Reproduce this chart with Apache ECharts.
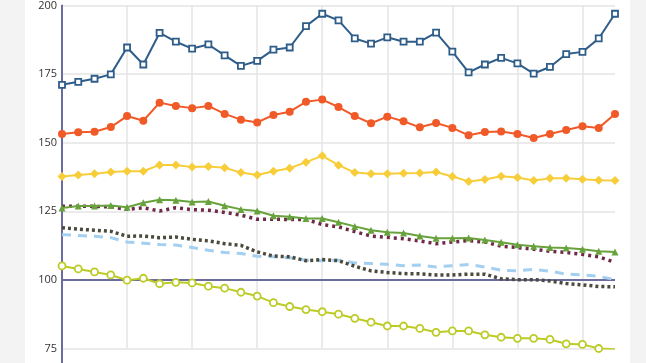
<!DOCTYPE html>
<html><head><meta charset="utf-8">
<script src="https://cdn.jsdelivr.net/npm/echarts@6/dist/echarts.min.js"></script>
<style>html,body{margin:0;padding:0;background:#f3f3f3}#c{width:646px;height:363px}</style>
</head><body><div id="c"></div>
<script>
const categories = Array.from({length:35},(_,i)=>String(i+1));
const yTicks = [75,100,125,150,175,200];
const blueSq = [171.1,172.2,173.3,174.9,184.7,178.5,190.0,186.8,184.3,185.8,181.8,178.0,179.8,183.9,184.7,192.5,197.0,194.6,188.0,186.1,188.4,186.8,186.8,190.1,183.2,175.6,178.5,180.9,178.9,175.2,177.6,182.3,183.1,188.0,197.0];
const orangeCirc = [153.2,153.8,154.0,155.7,159.7,158.0,164.6,163.4,162.6,163.4,160.5,158.4,157.4,160.1,161.3,164.9,165.7,163.0,159.7,157.1,159.5,157.8,155.6,157.2,155.4,152.7,153.9,154.1,153.2,151.7,153.2,154.6,156.0,155.4,160.5];
const yellowDia = [137.7,138.2,138.7,139.3,139.6,139.6,141.9,141.9,141.1,141.3,140.9,139.1,138.2,139.6,140.7,142.9,145.2,141.8,139.1,138.7,138.7,138.9,139.0,139.3,137.7,135.9,136.6,137.8,137.3,136.2,137.0,137.0,136.7,136.3,136.2];
const greenTri = [126.2,126.9,126.9,127.1,126.5,128.1,129.2,129.0,128.4,128.6,127.0,125.7,125.1,123.4,123.0,122.4,122.4,121.0,119.5,118.1,117.4,117.1,116.0,115.2,115.2,115.3,114.5,113.7,112.8,112.3,111.8,111.6,111.2,110.4,110.2];
const maroonDot = [126.8,126.8,126.8,126.6,125.7,126.3,125.1,126.3,125.6,125.4,124.6,123.6,122.1,122.1,122.0,122.0,120.2,119.3,117.6,116.0,115.5,115.0,114.2,113.2,113.8,114.3,113.8,112.3,111.8,111.2,110.4,110.0,109.3,108.4,106.4];
const lightBlueDash = [116.5,116.2,115.9,115.4,113.8,113.4,112.9,112.7,111.8,110.8,110.0,109.6,108.6,108.4,108.1,107.2,107.0,107.2,106.2,106.0,105.7,105.2,105.4,104.7,105.2,105.6,104.7,103.5,103.3,103.8,103.2,102.1,101.8,101.3,100.1];
const grayDot = [119.0,118.5,118.1,117.7,115.9,116.0,115.4,115.6,114.8,114.2,113.2,112.6,110.2,108.7,108.4,107.0,107.4,107.0,105.0,103.3,102.7,102.3,102.2,101.8,101.8,102.1,102.1,100.4,100.1,100.1,99.6,98.7,98.2,97.6,97.5];
const limeCirc = [105.1,104.0,102.9,101.8,99.9,100.6,98.6,99.1,98.9,97.7,97.0,95.5,94.1,91.7,90.3,89.2,88.4,87.5,86.0,84.6,83.2,83.2,82.3,80.9,81.4,81.4,80.0,79.1,78.7,78.7,78.3,76.7,76.5,75.0,74.7];
const baseline = 100;

const chart = echarts.init(document.getElementById('c'), null, {renderer:'canvas'});
function markerSeries(name, data, color, symbol, size, hollow){
  return {name, type:'line', data, symbol, symbolSize:size, showAllSymbol:true,
    lineStyle:{color, width:2}, itemStyle:{color: hollow ? '#ffffff' : color, borderColor:color, borderWidth: hollow?1.8:0},
    z:5};
}
function dashSeries(name, data, color, type, width){
  return {name, type:'line', data, symbol:'none', lineStyle:{color, width, type}, z:4};
}
chart.setOption({
  backgroundColor:'#f3f3f3',
  animation:false,
  graphic:[
    {type:'rect', shape:{x:25,y:0,width:605,height:363}, style:{fill:'#ffffff'}, z:-10},
    {type:'line', shape:{x1:62,y1:348,x2:62,y2:363}, style:{stroke:'#6b6b9e', lineWidth:2}, z:10}
  ],
  grid:{left:62, right:31, top:4.5, bottom:14.5, containLabel:false},
  xAxis:{type:'category', data:categories, boundaryGap:false,
    axisLine:{show:false}, axisTick:{show:false}, axisLabel:{show:false},
    splitLine:{show:true, interval:3, lineStyle:{color:'#e4e4e4', width:1.5}}},
  yAxis:{type:'value', min:yTicks[0], max:yTicks[yTicks.length-1], interval:25,
    axisLine:{show:true, lineStyle:{color:'#6b6b9e', width:2}}, axisTick:{show:false},
    axisLabel:{color:'#333333', fontSize:11, fontFamily:'Open Sans', margin:5},
    splitLine:{show:true, lineStyle:{color:'#e4e4e4', width:1.5}}},
  series:[
    dashSeries('maroon', maroonDot, '#6e2a48', [3,4], 3.5),
    dashSeries('lightblue', lightBlueDash, '#a3cff0', [9,7], 3),
    dashSeries('gray', grayDot, '#4b4a3c', [3,3], 3.5),
    Object.assign(markerSeries('lime', limeCirc, '#bccb25', 'circle', 7, true), {
      markLine:{silent:true, symbol:'none', label:{show:false}, lineStyle:{color:'#6b6b9e', width:2, type:'solid'}, data:[{yAxis:baseline}], z:3}}),
    markerSeries('green', greenTri, '#68a23c', 'triangle', 7, false),
    markerSeries('yellow', yellowDia, '#f7cd3a', 'diamond', 9, false),
    markerSeries('orange', orangeCirc, '#f05a28', 'circle', 8, false),
    markerSeries('blue', blueSq, '#2f5d89', 'rect', 6, true)
  ]
});
</script></body></html>
